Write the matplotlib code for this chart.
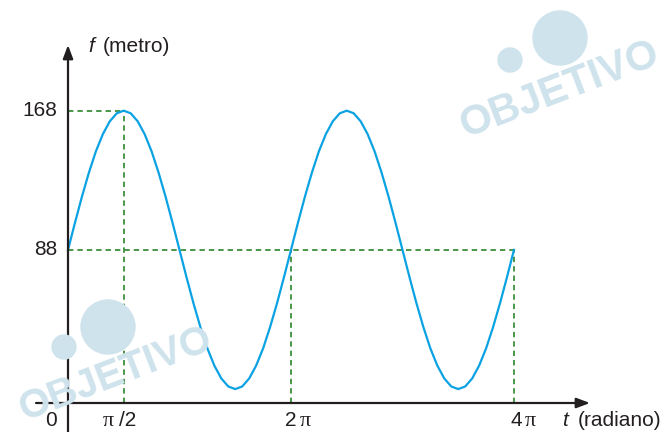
import numpy as np
import matplotlib.pyplot as plt
from matplotlib.patches import Ellipse

# f(t) at steps of pi/16 from t = 0 to t = 4 pi
t_step = np.pi / 16
f_values = [88, 103.6, 118.6, 132.4, 144.6, 154.5, 161.9, 166.5, 168,
            166.5, 161.9, 154.5, 144.6, 132.4, 118.6, 103.6, 88,
            72.4, 57.4, 43.6, 31.4, 21.5, 14.1, 9.5, 8,
            9.5, 14.1, 21.5, 31.4, 43.6, 57.4, 72.4, 88,
            103.6, 118.6, 132.4, 144.6, 154.5, 161.9, 166.5, 168,
            166.5, 161.9, 154.5, 144.6, 132.4, 118.6, 103.6, 88,
            72.4, 57.4, 43.6, 31.4, 21.5, 14.1, 9.5, 8,
            9.5, 14.1, 21.5, 31.4, 43.6, 57.4, 72.4, 88]
t_values = np.arange(len(f_values)) * t_step

y_ticks = [168, 88]
f_max, f_mid = 168, 88
t_max_point = np.pi / 2
t_mid_points = [2 * np.pi, 4 * np.pi]

plt.rcParams['font.family'] = ['Liberation Sans', 'DejaVu Sans']

fig = plt.figure(figsize=(6.64, 4.32), dpi=100)
ax = fig.add_axes([0, 0, 1, 1])
px_t = 35.49   # pixels per radian
px_f = 1.74    # pixels per metre
x0, y0 = 68, 403
ax.set_xlim(-x0 / px_t, (664 - x0) / px_t)
ax.set_ylim(-(432 - y0) / px_f, y0 / px_f)
ax.axis('off')

def px(x, y):
    # pixel position (from top-left) -> data coords
    return (x - x0) / px_t, (y0 - y) / px_f

wm = '#cfe3ed'
def watermark(cx, cy, rot, big, small, size=30):
    fig.text(cx / 664, 1 - cy / 432, 'OBJETIVO', color=wm, fontsize=size,
             fontweight='bold', rotation=rot, ha='center', va='center',
             rotation_mode='anchor', zorder=0)
    for (x, y, r) in (big, small):
        fig.patches.append(Ellipse((x / 664, 1 - y / 432), 2 * r / 664, 2 * r / 432,
                                   transform=fig.transFigure, color=wm, zorder=0))

watermark(560, 90, 21, (560, 38, 27), (510, 60, 12))
watermark(116, 374, 21, (108, 327, 27), (64, 347, 12), size=29)

green = '#3d8f3d'
dash = dict(color=green, lw=1.3, ls=(0, (3, 2.2)))
ax.plot([0, t_max_point], [f_max, f_max], **dash)
ax.plot([t_max_point, t_max_point], [0, f_max], **dash)
ax.plot([0, t_mid_points[-1]], [f_mid, f_mid], **dash)
for tm in t_mid_points:
    ax.plot([tm, tm], [0, f_mid], **dash)

ax.plot(t_values, f_values, color='#0aa2e3', lw=1.6, zorder=3)

# axes with arrows
arrow = dict(arrowstyle='-|>,head_length=0.8,head_width=0.3',
             color='#231f20', lw=1.6, shrinkA=0, shrinkB=0)
ax.annotate('', xy=px(68, 45), xytext=px(68, 432), arrowprops=arrow)
ax.annotate('', xy=px(590, y0), xytext=px(36, y0), arrowprops=arrow)

fs = 15
tc = '#231f20'
serif = ['Liberation Serif', 'DejaVu Serif']
for v in y_ticks:
    ax.text(px(57, 0)[0], v, str(v), ha='right', va='center', fontsize=fs, color=tc)
ly = 421
ax.text(*px(51, ly), '0', ha='center', va='center', fontsize=fs, color=tc)
ax.text(*px(103, ly), 'π', ha='left', va='center', fontsize=fs + 1, color=tc, family=serif)
ax.text(*px(119, ly), '/2', ha='left', va='center', fontsize=fs, color=tc)
ax.text(*px(285, ly), '2', ha='left', va='center', fontsize=fs, color=tc)
ax.text(*px(300, ly), 'π', ha='left', va='center', fontsize=fs + 1, color=tc, family=serif)
ax.text(*px(510, ly), '4', ha='left', va='center', fontsize=fs, color=tc)
ax.text(*px(525, ly), 'π', ha='left', va='center', fontsize=fs + 1, color=tc, family=serif)
ax.text(*px(562, ly), 't', ha='left', va='center', fontsize=fs, color=tc, style='italic')
ax.text(*px(578, ly), '(radiano)', ha='left', va='center', fontsize=fs, color=tc)
ax.text(*px(88, 47), 'f', ha='left', va='center', fontsize=fs, color=tc, style='italic')
ax.text(*px(103, 47), '(metro)', ha='left', va='center', fontsize=fs, color=tc)

fig.savefig('out.png', dpi=100)
